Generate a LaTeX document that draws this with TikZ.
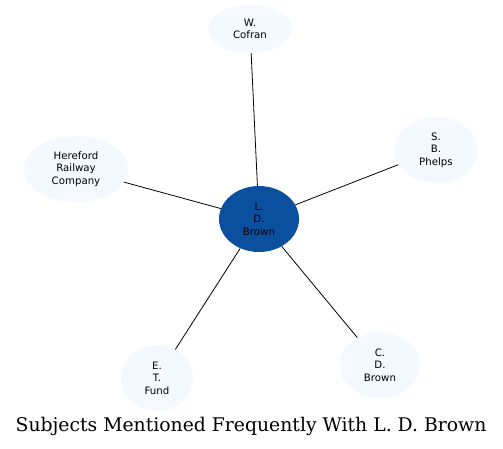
\documentclass[tikz,border=0pt]{standalone}
\usepackage{fontspec}
\newfontfamily\labelfont{DejaVu Sans}
\newfontfamily\titlefont{DejaVu Serif}
\usetikzlibrary{shapes.geometric, positioning}
\definecolor{hubblue}{RGB}{10,80,158}
\definecolor{leaffill}{RGB}{244,248,255}

\begin{document}
\begin{tikzpicture}[x=1pt, y=-1pt,
    subject/.style={ellipse, fill=leaffill, inner sep=0pt, align=center,
      font=\labelfont\fontsize{10.2}{12.5}\selectfont, minimum width=80pt, minimum height=66pt},
    hub/.style={subject, fill=hubblue},
    link/.style={draw=black, line width=0.8pt}]
  \useasboundingbox (0,0) rectangle (503,448);

  \node[hub] (LDB) at (259,219) {L.\\D.\\Brown};
  \node[subject, minimum width=84pt, minimum height=48pt] (WC) at (250,29) {W.\\Cofran};
  \node[subject, minimum width=104pt] (HRC) at (76,169) {Hereford\\Railway\\Company};
  \node[subject, minimum width=84pt] (SBP) at (436,150) {S.\\B.\\Phelps};
  \node[subject, minimum width=72pt] (ETF) at (157,378) {E.\\T.\\Fund};
  \node[subject] (CDB) at (380,365) {C.\\D.\\Brown};

  \draw[link] (LDB) -- (WC);
  \draw[link] (LDB) -- (HRC);
  \draw[link] (LDB) -- (SBP);
  \draw[link] (LDB) -- (ETF);
  \draw[link] (LDB) -- (CDB);

  \node[font=\titlefont\fontsize{18.8}{22}\selectfont] (title) at (251,426) {Subjects Mentioned Frequently With L. D. Brown};
\end{tikzpicture}
\end{document}
